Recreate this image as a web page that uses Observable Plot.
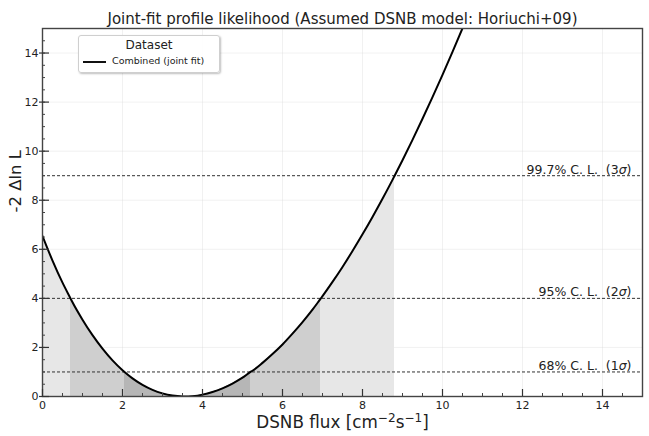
<!DOCTYPE html>
<html>
<head>
<meta charset="utf-8">
<script src="https://cdn.jsdelivr.net/npm/d3@7"></script>
<script src="https://cdn.jsdelivr.net/npm/@observablehq/plot@0.6"></script>
<style>
  html, body { margin: 0; padding: 0; background: #fff; }
  #wrap { position: relative; width: 649px; height: 436px; font-family: "DejaVu Sans", sans-serif; }
  #legend {
    position: absolute; left: 78px; top: 35px; width: 142px; height: 38px;
    border: 1px solid #cfcfcf; border-radius: 3px; background: rgba(255,255,255,0.9);
    box-shadow: 1px 1px 2px rgba(0,0,0,0.25); box-sizing: border-box;
    font-family: "DejaVu Sans", sans-serif; color: #222;
  }
  #legend .title { position: absolute; top: 2px; left: 0; width: 100%; text-align: center; font-size: 12px; }
  #legend .swatch { position: absolute; left: 4px; top: 25px; width: 23px; height: 0; border-top: 2px solid #111; }
  #legend .lab { position: absolute; left: 33px; top: 19px; font-size: 9.5px; white-space: nowrap; }
</style>
</head>
<body>
<div id="wrap"></div>
<script>
// ---- data ----
const flux = [0, 0.25, 0.5, 0.7, 0.75, 1.0, 1.25, 1.5, 1.75, 2.0, 2.05, 2.25, 2.5, 2.75, 3.0, 3.25, 3.5, 3.55,
  3.75, 4.0, 4.25, 4.5, 4.75, 5.0, 5.2, 5.25, 5.5, 5.75, 6.0, 6.25, 6.5, 6.75, 6.95, 7.0, 7.25, 7.5, 7.75,
  8.0, 8.25, 8.5, 8.75, 8.8, 9.0, 9.25, 9.5, 9.75, 10.0, 10.25, 10.5, 10.75];
const deltaLnL = [6.54, 5.54, 4.64, 4.0, 3.84, 3.13, 2.50, 1.95, 1.47, 1.07, 1.0, 0.74, 0.475, 0.271, 0.126, 0.037, 0.001, 0,
  0.015, 0.076, 0.183, 0.334, 0.529, 0.766, 1.0, 1.05, 1.37, 1.73, 2.12, 2.56, 3.03, 3.54, 3.98, 4.09, 4.67, 5.28, 5.93,
  6.61, 7.32, 8.06, 8.83, 8.99, 9.63, 10.46, 11.32, 12.20, 13.11, 14.05, 15.01, 16.0];

const clLevels = [1, 4, 9];
const clLabels = ["68% C. L.  (1σ)", "95% C. L.  (2σ)", "99.7% C. L.  (3σ)"];
const clLow = [2.05, 0.7, 0];
const clHigh = [5.2, 6.95, 8.8];
const clFill = ["#b6b6b6", "#cfcfcf", "#e7e7e7"];

const xTicks = [0, 2, 4, 6, 8, 10, 12, 14];
const yTicks = [0, 2, 4, 6, 8, 10, 12, 14];
const minorTicks = d3.range(0, 15.01, 0.5);

const titleText = "Joint-fit profile likelihood (Assumed DSNB model: Horiuchi+09)";
const xLabelParts = [["DSNB flux [cm", false], ["−2", true], ["s", false], ["−1", true], ["]", false]];
const xLabel = "DSNB flux [cm−2s−1]";
const yLabel = "-2 Δln L";
const legendTitle = "Dataset";
const seriesName = "Combined (joint fit)";

const curve = flux.map((x, i) => ({x, y: deltaLnL[i]}));
const bands = clLevels.map((lev, i) => ({level: lev, lo: clLow[i], hi: clHigh[i], fill: clFill[i], label: clLabels[i]}));

const font = "DejaVu Sans, sans-serif";
const ink = "#222";

const areaMarks = [2, 1, 0].map(i =>
  Plot.areaY(curve.filter(d => d.x >= bands[i].lo && d.x <= bands[i].hi), {x: "x", y1: 0, y2: "y", fill: bands[i].fill, clip: true, curve: "monotone-x"})
);

const chart = Plot.plot({
  width: 649,
  height: 436,
  marginLeft: 42,
  marginRight: 7,
  marginTop: 28,
  marginBottom: 40,
  style: {fontFamily: font, background: "#fff", color: ink},
  x: {domain: [0, 15], axis: null},
  y: {domain: [0, 15], axis: null},
  marks: [
    Plot.gridX(xTicks, {stroke: "#d8d8d8", strokeOpacity: 0.45, strokeWidth: 0.8}),
    Plot.gridY(yTicks, {stroke: "#d8d8d8", strokeOpacity: 0.45, strokeWidth: 0.8}),
    ...areaMarks,
    Plot.ruleY(clLevels, {stroke: "#333", strokeWidth: 1, strokeDasharray: "3,2"}),
    Plot.line(curve, {x: "x", y: "y", stroke: "#000", strokeWidth: 2, clip: true, curve: "monotone-x"}),
    Plot.text(bands, {y: "level", text: "label", frameAnchor: "right", textAnchor: "end", lineAnchor: "bottom", dx: -11, dy: -2, fontSize: 12.5, fill: ink}),
    Plot.frame({stroke: "#444", strokeWidth: 1.4}),
    // ticks (inward)
    Plot.axisX(minorTicks, {tickSize: -3, fill: "none", stroke: "#444", label: null}),
    Plot.axisX(xTicks, {tickSize: -7, fill: "none", stroke: "#333", strokeWidth: 1.2, label: null}),
    Plot.axisX(xTicks, {tickSize: 0, tickPadding: 5, fontSize: 11, fill: ink, label: null, tickFormat: d => String(d)}),
    Plot.axisY(minorTicks, {tickSize: -3, fill: "none", stroke: "#444", label: null}),
    Plot.axisY(yTicks, {tickSize: -7, fill: "none", stroke: "#333", strokeWidth: 1.2, label: null}),
    Plot.axisY(yTicks, {tickSize: 3, tickPadding: 1, fontSize: 11, fill: ink, stroke: "#333", strokeWidth: 1.2, label: null, tickFormat: d => String(d)}),
    // title and axis labels
    Plot.text([titleText], {frameAnchor: "top", dy: -15.5, fontSize: 15, fill: ink}),
    Plot.text([xLabel], {frameAnchor: "bottom", dy: 31, fontSize: 16.8, fill: ink, className: "xlab"}),
    Plot.text([yLabel], {frameAnchor: "left", dx: -27, rotate: -90, fontSize: 16.5, fill: ink})
  ]
});

const ns = "http://www.w3.org/2000/svg";
// italic sigma
chart.querySelectorAll("text").forEach(t => {
  if (t.children.length === 0 && t.textContent.includes("σ")) {
    const parts = t.textContent.split("σ");
    t.textContent = "";
    parts.forEach((p, i) => {
      t.appendChild(document.createTextNode(p));
      if (i < parts.length - 1) {
        const ts = document.createElementNS(ns, "tspan");
        ts.setAttribute("font-style", "italic");
        ts.textContent = "σ";
        t.appendChild(ts);
      }
    });
  }
});
// superscripts in x label
chart.querySelectorAll("text").forEach(t => {
  if (t.children.length === 0 && t.textContent === xLabel) {
    t.textContent = "";
    let raised = false;
    xLabelParts.forEach(([s, sup]) => {
      const ts = document.createElementNS(ns, "tspan");
      ts.textContent = s;
      if (sup && !raised) { ts.setAttribute("dy", "-0.45em"); ts.setAttribute("font-size", "0.72em"); raised = true; }
      else if (sup) { ts.setAttribute("font-size", "0.72em"); }
      else if (!sup && raised) { ts.setAttribute("dy", "0.324em"); raised = false; }
      t.appendChild(ts);
    });
  }
});

const wrap = document.getElementById("wrap");
wrap.appendChild(chart);
const legend = document.createElement("div");
legend.id = "legend";
legend.innerHTML = `<div class="title"></div><div class="swatch"></div><div class="lab"></div>`;
legend.querySelector(".title").textContent = legendTitle;
legend.querySelector(".lab").textContent = seriesName;
wrap.appendChild(legend);
</script>
</body>
</html>
